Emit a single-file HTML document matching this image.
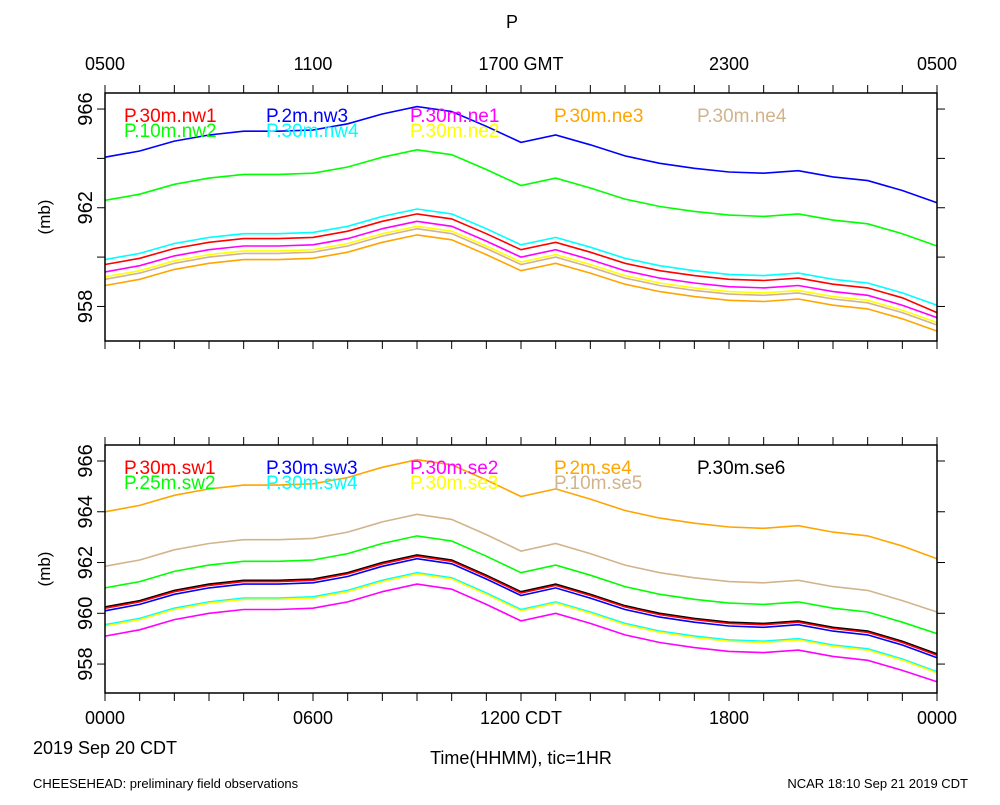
<!DOCTYPE html>
<html><head><meta charset="utf-8"><style>
body{margin:0;background:#fff;}
svg{font-family:"Liberation Sans",sans-serif;}
</style></head><body>
<svg id="c" width="1000" height="800"></svg>
<script>
const hours=[0,1,2,3,4,5,6,7,8,9,10,11,12,13,14,15,16,17,18,19,20,21,22,23,24];
const topAxisLabels=["0500","1100","1700 GMT","2300","0500"];
const bottomAxisLabels=["0000","0600","1200 CDT","1800","0000"];
const yTicks=[958,960,962,964,966];
const yLabels=[958,962,966];
const yLabelsBottom=[958,960,962,964,966];
const nw1=[959.7,959.95,960.35,960.6,960.75,960.75,960.8,961.05,961.45,961.75,961.55,960.95,960.3,960.6,960.2,959.75,959.45,959.25,959.1,959.05,959.15,958.9,958.75,958.35,957.75];
const nw2=[962.3,962.55,962.95,963.2,963.35,963.35,963.4,963.65,964.05,964.35,964.15,963.55,962.9,963.2,962.8,962.35,962.05,961.85,961.7,961.65,961.75,961.5,961.35,960.95,960.45];
const nw3=[964.05,964.3,964.7,964.95,965.1,965.1,965.15,965.4,965.8,966.1,965.9,965.3,964.65,964.95,964.55,964.1,963.8,963.6,963.45,963.4,963.5,963.25,963.1,962.7,962.2];
const nw4=[959.9,960.15,960.55,960.8,960.95,960.95,961.0,961.25,961.65,961.95,961.75,961.15,960.5,960.8,960.4,959.95,959.65,959.45,959.3,959.25,959.35,959.1,958.95,958.55,958.05];
const ne1=[959.4,959.65,960.05,960.3,960.45,960.45,960.5,960.75,961.15,961.45,961.25,960.65,960.0,960.3,959.9,959.45,959.15,958.95,958.8,958.75,958.85,958.6,958.45,958.05,957.55];
const ne2=[959.2,959.45,959.85,960.1,960.25,960.25,960.3,960.55,960.95,961.25,961.05,960.45,959.8,960.1,959.7,959.25,958.95,958.75,958.6,958.55,958.65,958.4,958.25,957.85,957.35];
const ne3=[958.85,959.1,959.5,959.75,959.9,959.9,959.95,960.2,960.6,960.9,960.7,960.1,959.45,959.75,959.35,958.9,958.6,958.4,958.25,958.2,958.3,958.05,957.9,957.5,957.0];
const ne4=[959.1,959.35,959.75,960.0,960.15,960.15,960.2,960.45,960.85,961.15,960.95,960.35,959.7,960.0,959.6,959.15,958.85,958.65,958.5,958.45,958.55,958.3,958.15,957.75,957.25];
const sw1=[960.2,960.45,960.85,961.1,961.25,961.25,961.3,961.55,961.95,962.25,962.05,961.45,960.8,961.1,960.7,960.25,959.95,959.75,959.6,959.55,959.65,959.4,959.25,958.85,958.35];
const sw2=[961.0,961.25,961.65,961.9,962.05,962.05,962.1,962.35,962.75,963.05,962.85,962.25,961.6,961.9,961.5,961.05,960.75,960.55,960.4,960.35,960.45,960.2,960.05,959.65,959.2];
const sw3=[960.1,960.35,960.75,961.0,961.15,961.15,961.2,961.45,961.85,962.15,961.95,961.35,960.7,961.0,960.6,960.15,959.85,959.65,959.5,959.45,959.55,959.3,959.15,958.75,958.25];
const sw4=[959.55,959.8,960.2,960.45,960.6,960.6,960.65,960.9,961.3,961.6,961.4,960.8,960.15,960.45,960.05,959.6,959.3,959.1,958.95,958.9,959.0,958.75,958.6,958.2,957.7];
const se2=[959.1,959.35,959.75,960.0,960.15,960.15,960.2,960.45,960.85,961.15,960.95,960.35,959.7,960.0,959.6,959.15,958.85,958.65,958.5,958.45,958.55,958.3,958.15,957.75,957.3];
const se3=[959.5,959.75,960.15,960.4,960.55,960.55,960.6,960.85,961.25,961.55,961.35,960.75,960.1,960.4,960.0,959.55,959.25,959.05,958.9,958.85,958.95,958.7,958.55,958.15,957.65];
const se4=[964.0,964.25,964.65,964.9,965.05,965.05,965.1,965.35,965.75,966.05,965.85,965.25,964.6,964.9,964.5,964.05,963.75,963.55,963.4,963.35,963.45,963.2,963.05,962.65,962.15];
const se5=[961.85,962.1,962.5,962.75,962.9,962.9,962.95,963.2,963.6,963.9,963.7,963.1,962.45,962.75,962.35,961.9,961.6,961.4,961.25,961.2,961.3,961.05,960.9,960.5,960.05];
const se6=[960.25,960.5,960.9,961.15,961.3,961.3,961.35,961.6,962.0,962.3,962.1,961.5,960.85,961.15,960.75,960.3,960.0,959.8,959.65,959.6,959.7,959.45,959.3,958.9,958.4];

const NS="http://www.w3.org/2000/svg";
const svg=document.getElementById('c');
function mk(tag,attrs,parent){const e=document.createElementNS(NS,tag);for(const k in attrs)e.setAttribute(k,attrs[k]);(parent||svg).appendChild(e);return e;}
const X0=105,X1=937;
function xs(h){return X0+(X1-X0)*h/24;}
function panel(top,bot,yTop,yBot,labels,series,legend,name){
  const g=mk('g',{});
  
  
  const ys=v=>top+(yTop-v)/(yTop-yBot)*(bot-top);
  for(const h of hours){
    const x=xs(h);
    const t1=mk('line',{x1:x,x2:x,y1:top-8,y2:top,stroke:'#000','stroke-width':1},g);
    
    
    const t2=mk('line',{x1:x,x2:x,y1:bot,y2:bot+8,stroke:'#000','stroke-width':1},g);
    
    
  }
  for(const v of yTicks){
    const y=ys(v);
    const a=mk('line',{x1:X0-8,x2:X0,y1:y,y2:y,stroke:'#000'},g);
    
    
    const b=mk('line',{x1:X1,x2:X1+8,y1:y,y2:y,stroke:'#000'},g);
    
    
  }
  for(const v of labels){
    const y=ys(v);
    const t=mk('text',{x:0,y:0,transform:`translate(92,${y}) rotate(-90)`,'text-anchor':'middle','font-size':20},g);
    t.textContent=String(v);
    
    
  }
  const yt=mk('text',{transform:`translate(50,${(top+bot)/2}) rotate(-90)`,'text-anchor':'middle','font-size':17},g);
  yt.textContent='(mb)';
  
  
  for(const s of series){
    const d=s.data.map((v,i)=>(i?'L':'M')+xs(hours[i]).toFixed(1)+','+ys(v).toFixed(1)).join('');
    const p=mk('path',{d:d,fill:'none',stroke:s.color,'stroke-width':1.6},g);
    
    
  }
  const fr=mk('rect',{x:X0,y:top,width:X1-X0,height:bot-top,fill:'none',stroke:'#000','stroke-width':1.5},g);
  
  
  for(const l of legend){
    const t=mk('text',{x:l.x,y:top+l.dy,'font-size':19,fill:l.color},g);
    t.textContent=l.text;
    
    
  }
  return ys;
}
const C={red:'#ff0000',green:'#00ff00',blue:'#0000ff',cyan:'#00ffff',mag:'#ff00ff',yel:'#ffff00',org:'#ffa500',tan:'#d2b48c',blk:'#000000'};
const lx=[124,266,410,554,697];
panel(93,341,966.65,956.6,yLabels,[
 {name:'nw3',data:nw3,color:C.blue},{name:'nw2',data:nw2,color:C.green},
 {name:'ne3',data:ne3,color:C.org},{name:'ne4',data:ne4,color:C.tan},{name:'ne2',data:ne2,color:C.yel},
 {name:'ne1',data:ne1,color:C.mag},{name:'nw1',data:nw1,color:C.red},{name:'nw4',data:nw4,color:C.cyan}],
 [{x:lx[0],dy:29,text:'P.30m.nw1',color:C.red},{x:lx[1],dy:29,text:'P.2m.nw3',color:C.blue},{x:lx[2],dy:29,text:'P.30m.ne1',color:C.mag},{x:lx[3],dy:29,text:'P.30m.ne3',color:C.org},{x:lx[4],dy:29,text:'P.30m.ne4',color:C.tan},
  {x:lx[0],dy:44,text:'P.10m.nw2',color:C.green},{x:lx[1],dy:44,text:'P.30m.nw4',color:C.cyan},{x:lx[2],dy:44,text:'P.30m.ne2',color:C.yel}],'top-panel');
panel(445,693,966.63,956.86,yLabelsBottom,[
 {name:'se4',data:se4,color:C.org},{name:'se5',data:se5,color:C.tan},{name:'sw2',data:sw2,color:C.green},
 {name:'se2',data:se2,color:C.mag},{name:'sw4',data:sw4,color:C.cyan},{name:'se3',data:se3,color:C.yel},
 {name:'se6',data:se6,color:C.blk},{name:'sw1',data:sw1,color:C.red},{name:'sw3',data:sw3,color:C.blue}],
 [{x:lx[0],dy:29,text:'P.30m.sw1',color:C.red},{x:lx[1],dy:29,text:'P.30m.sw3',color:C.blue},{x:lx[2],dy:29,text:'P.30m.se2',color:C.mag},{x:lx[3],dy:29,text:'P.2m.se4',color:C.org},{x:lx[4],dy:29,text:'P.30m.se6',color:C.blk},
  {x:lx[0],dy:44,text:'P.25m.sw2',color:C.green},{x:lx[1],dy:44,text:'P.30m.sw4',color:C.cyan},{x:lx[2],dy:44,text:'P.30m.se3',color:C.yel},{x:lx[3],dy:44,text:'P.10m.se5',color:C.tan}],'bottom-panel');
topAxisLabels.forEach((s,i)=>{const t=mk('text',{x:xs(i*6),y:70,'text-anchor':'middle','font-size':18});t.textContent=s;
 
 });
bottomAxisLabels.forEach((s,i)=>{const t=mk('text',{x:xs(i*6),y:724,'text-anchor':'middle','font-size':18});t.textContent=s;
 
 });
function txt(x,y,s,size,anchor,name){const t=mk('text',{x:x,y:y,'font-size':size,'text-anchor':anchor});t.textContent=s;
 
 }
txt(512,28,'P',18,'middle','chart-title');
txt(105,754,'2019 Sep 20 CDT',18,'middle','date-label');
txt(521,764,'Time(HHMM), tic=1HR',18,'middle','x-axis-title');
txt(33,788,'CHEESEHEAD: preliminary field observations',13,'start','footer-left');
txt(968,788,'NCAR 18:10 Sep 21 2019 CDT',13,'end','footer-right');
</script>
</body></html>
